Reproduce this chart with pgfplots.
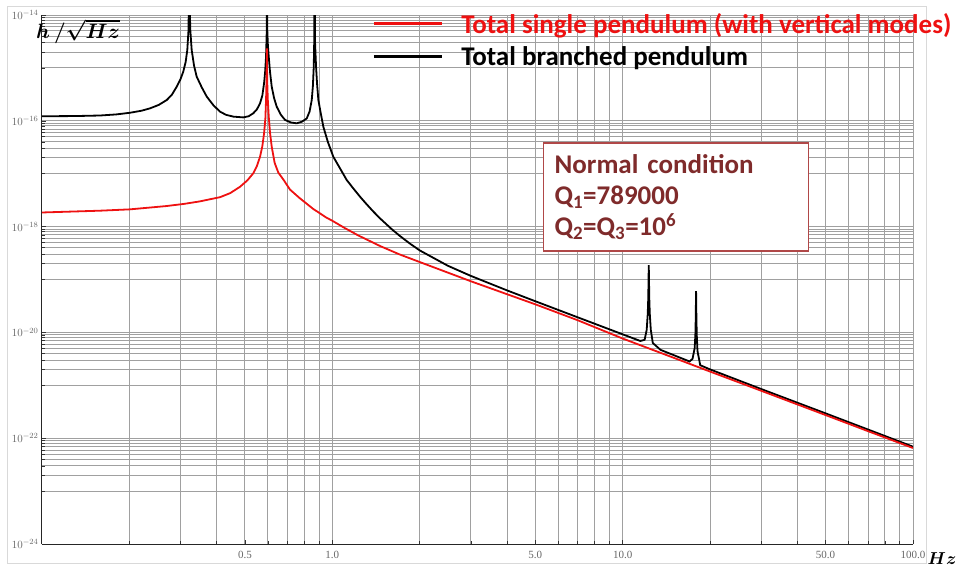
\documentclass[border=0pt]{standalone}
\usepackage{pgfplots}
\pgfplotsset{compat=1.18}
\usepackage{fontspec}
\setmainfont{Liberation Serif}
\newfontfamily\carlito{Carlito}
\definecolor{boxtext}{HTML}{7F2B2B}
\definecolor{boxborder}{HTML}{B04848}
\definecolor{gridgray}{HTML}{A0A0A0}
\definecolor{myred}{HTML}{EE1111}
\pgfplotstableread{
f y
0.1 1.85e-18
0.1584 2.00e-18
0.2009 2.12e-18
0.2689 2.45e-18
0.31 2.7e-18
0.35 3.0e-18
0.38 3.3e-18
0.4105 3.6e-18
0.445 4.3e-18
0.4810 5.67e-18
0.51 7.5e-18
0.5343 1.02e-17
0.55 1.4e-17
0.5636 2.09e-17
0.574 3.3e-17
0.5820 5.81e-17
0.5880 1.1e-16
0.5912 2.47e-16
0.5935 6.0e-16
0.5950 2.34e-15
0.5965 6.0e-16
0.5995 2.5e-16
0.6040 1.20e-16
0.6100 6.0e-17
0.6184 3.24e-17
0.6330 1.6e-17
0.6516 1.05e-17
0.68 7.6e-18
0.7152 5.0e-18
0.77 3.5e-18
0.8164 2.7e-18
0.86 2.15e-18
0.9072 1.78e-18
0.95 1.50e-18
1.0 1.29e-18
1.1 9.5e-19
1.226 6.85e-19
1.46 4.3e-19
1.7 3.0e-19
2.0 2.14e-19
3 9.27e-20
5 3.40e-20
7 1.70e-20
10 7.66e-21
15 3.31e-21
20 1.82e-21
30 7.89e-22
50 2.74e-22
70 1.36e-22
100 6.53e-23
}\singletab
\pgfplotstableread{
f y
0.1 1.22e-16
0.13 1.23e-16
0.1584 1.26e-16
0.18 1.32e-16
0.2009 1.42e-16
0.22 1.55e-16
0.2355 1.72e-16
0.2525 2.0e-16
0.2689 2.47e-16
0.28 3.1e-16
0.2911 4.42e-16
0.2995 6.0e-16
0.3066 8.47e-16
0.3125 1.3e-15
0.3166 2.18e-15
0.3195 5.0e-15
0.3217 5.0e-14
0.3240 5.5e-15
0.3278 2.18e-15
0.3340 1.1e-15
0.3411 6.82e-16
0.355 4.3e-16
0.3695 2.86e-16
0.39 1.95e-16
0.4105 1.49e-16
0.43 1.30e-16
0.4560 1.20e-16
0.4937 1.16e-16
0.515 1.22e-16
0.5343 1.39e-16
0.55 1.65e-16
0.5636 2.14e-16
0.574 3.0e-16
0.5820 5.12e-16
0.587 8.5e-16
0.5912 1.63e-15
0.5945 5.0e-15
0.5958 5.0e-14
0.5972 5.0e-15
0.6 2.6e-15
0.6040 1.63e-15
0.61 8.5e-16
0.6184 4.42e-16
0.63 2.7e-16
0.6433 1.85e-16
0.665 1.3e-16
0.6874 1.04e-16
0.72 9.3e-17
0.7541 8.97e-17
0.785 9.6e-17
0.8164 1.11e-16
0.835 1.5e-16
0.8494 2.47e-16
0.857 4.5e-16
0.8630 1.05e-15
0.8660 3.0e-15
0.8690 5.0e-14
0.8720 3.0e-15
0.8790 1.05e-15
0.886 5.0e-16
0.8952 2.47e-16
0.91 1.5e-16
0.9312 7.73e-17
0.965 4.0e-17
1.0079 2.09e-17
1.063 1.26e-17
1.121 7.60e-18
1.18 5.3e-18
1.246 3.67e-18
1.3 2.81e-18
1.38 1.96e-18
1.46 1.43e-18
1.6 9.0e-19
1.7 6.81e-19
1.85 4.78e-19
2.0 3.55e-19
2.5 1.82e-19
3.0 1.17e-19
4.0 6.22e-20
5.0 3.89e-20
7.0 1.93e-20
10 9.2e-21
11.5 6.89e-21
11.9 7.24e-21
12.1 1.12e-20
12.2 2.24e-20
12.25 4.47e-20
12.3 1.86e-19
12.35 4.47e-20
12.4 2.24e-20
12.5 1.12e-20
12.7 6.31e-21
13.5 4.68e-21
15 3.72e-21
17.0 2.82e-21
17.4 3.16e-21
17.7 5.01e-21
17.8 8.91e-21
17.85 1.78e-20
17.9 6.03e-20
17.95 1.78e-20
18.0 8.91e-21
18.1 4.47e-21
18.5 2.40e-21
20 2.0e-21
30 8.51e-22
50 2.95e-22
70 1.46e-22
100 6.92e-23
}\branchtab
\begin{document}
\begin{tikzpicture}[x=1pt,y=1pt]
\path[use as bounding box] (0,0) rectangle (957,571);
\draw[gray!30, line width=1pt] (7,8) rectangle (926,564);
\begin{axis}[
  at={(42pt,27pt)}, anchor=south west,
  scale only axis, width=871pt, height=529pt,
  xmode=log, ymode=log,
  xmin=0.1, xmax=100, ymin=1e-24, ymax=1e-14,
  clip mode=individual,
  axis x line=bottom, axis y line=left,
  axis line style={-, line width=1pt, black!85},
  xtick={0.5,1,5,10,50,100},
  xticklabels={0.5,1.0,5.0,10.0,50.0,100.0},
  minor xtick={0.2,0.3,0.4,0.6,0.7,0.8,0.9,2,3,4,6,7,8,9,20,30,40,60,70,80,90},
  ytick={1e-24,1e-22,1e-20,1e-18,1e-16,1e-14},
  yticklabels={$10^{-24}$,$10^{-22}$,$10^{-20}$,$10^{-18}$,$10^{-16}$,$10^{-14}$},
  minor ytick={1e-23,2e-23,3e-23,4e-23,5e-23,6e-23,7e-23,8e-23,9e-23,
               1e-21,2e-21,3e-21,4e-21,5e-21,6e-21,7e-21,8e-21,9e-21,
               1e-19,2e-19,3e-19,4e-19,5e-19,6e-19,7e-19,8e-19,9e-19,
               1e-17,2e-17,3e-17,4e-17,5e-17,6e-17,7e-17,8e-17,9e-17,
               1e-15,2e-15,3e-15,4e-15,5e-15,6e-15,7e-15,8e-15,9e-15},
  grid=both,
  major grid style={gridgray, line width=0.9pt},
  minor grid style={gridgray, line width=0.9pt},
  tick align=inside,
  major tick length=4pt, minor tick length=3pt,
  tick style={black!80, line width=0.6pt},
  ticklabel style={font={\fontsize{11}{12}\selectfont}, text=black!60},
  xticklabel style={yshift=-4pt},
  legend style={at={(0.379,1)}, anchor=north west, yshift=4pt, draw=none, fill=none,
     inner sep=0pt, row sep=8pt, font={\carlito\bfseries\fontsize{27}{29}\selectfont}},
  legend cell align=left,
  legend image code/.code={\draw[#1, line width=3pt] (0pt,0pt) -- (68pt,0pt);},
]
\addlegendimage{myred, line width=1.8pt}
\addlegendentry{\hspace{16pt}\textcolor{myred}{Total single pendulum (with vertical modes)}}
\addlegendimage{black, line width=1.8pt}
\addlegendentry{\hspace{16pt}Total branched pendulum}
\addplot[black, line width=1.8pt, forget plot] table[x=f, y=y] {\branchtab};
\addplot[myred, line width=1.8pt, forget plot] table[x=f, y=y] {\singletab};
\node[anchor=north west, inner sep=0pt, xshift=-6pt, yshift=-4pt, font={\fontsize{20}{21}\selectfont\boldmath}] at (rel axis cs:0,1) {$h\,/\sqrt{Hz}$};
\node[anchor=center, inner sep=0pt, xshift=29pt, yshift=-15pt, font={\fontsize{16}{17}\selectfont\boldmath}] at (rel axis cs:1,0) {$Hz$};
\node[draw=boxborder, line width=1.6pt, fill=white, anchor=north west, inner xsep=11pt, inner ysep=6pt,
      text=boxtext, font={\carlito\bfseries\fontsize{27}{31}\selectfont}, align=left,
      minimum width=265pt, minimum height=108pt, text width=243pt] at (rel axis cs:0.575,0.760)
  {Normal condition\\ Q\textsubscript{1}=789000\\ Q\textsubscript{2}=Q\textsubscript{3}=10\textsuperscript{6}};
\end{axis}
\end{tikzpicture}
\end{document}
